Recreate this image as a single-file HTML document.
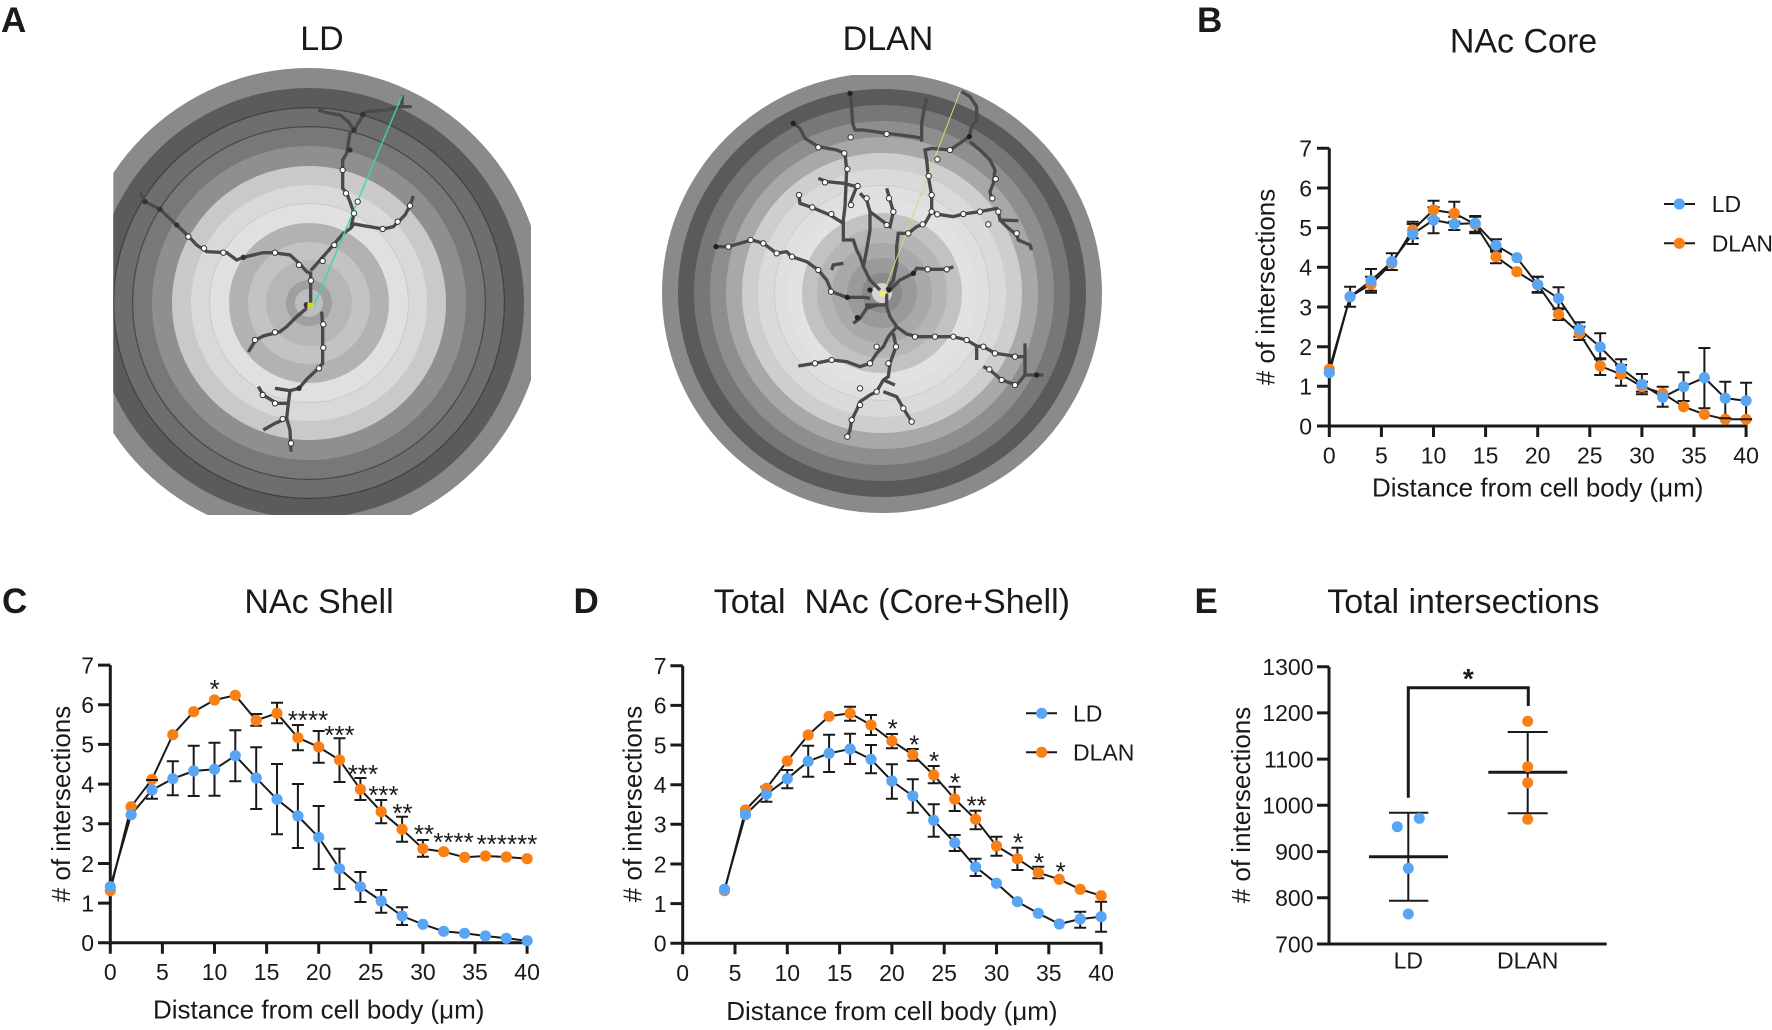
<!DOCTYPE html>
<html><head><meta charset="utf-8"><style>
html,body{margin:0;padding:0;background:#fff}
svg{display:block}
text{font-family:"Liberation Sans",Arial,sans-serif;fill:#1a1a1a}
.t{font-size:34px}
.L{font-size:35px;font-weight:bold;fill:#1a1a1a}
.tk{font-size:23px}
.ax{font-size:26px}
.st{font-size:26px}
.e{fill:none;stroke:#1a1a1a;stroke-width:2}
.ln{fill:none;stroke:#1a1a1a;stroke-width:2;stroke-linejoin:round}
.axis{fill:none;stroke:#1a1a1a;stroke-width:3}
.tick{fill:none;stroke:#1a1a1a;stroke-width:3}
.den{fill:none;stroke:#4a4a4a;stroke-width:10;stroke-linejoin:miter}
.nw{fill:#fff;stroke:#333;stroke-width:3}
</style></head><body>
<svg width="1772" height="1030" viewBox="0 0 1772 1030" xmlns="http://www.w3.org/2000/svg">
<defs>
<circle id="o" r="5.6" fill="#fa7f14"/>
<circle id="b" r="5.6" fill="#58a5f6"/>
<clipPath id="cl"><rect x="113.3" y="60" width="417.7" height="455"/></clipPath>
<clipPath id="cd"><rect x="600" y="75" width="540" height="460"/></clipPath>
</defs>

<!-- Panel letters -->
<text class="L" x="1" y="32">A</text>
<text class="L" x="1197" y="32">B</text>
<text class="L" x="2" y="613">C</text>
<text class="L" x="573.5" y="613">D</text>
<text class="L" x="1194.5" y="613">E</text>

<!-- Panel A titles -->
<text class="t" x="322" y="50" text-anchor="middle">LD</text>
<text class="t" x="888" y="50" text-anchor="middle">DLAN</text>

<!-- LD neuron -->
<g clip-path="url(#cl)">
<circle cx="309" cy="303" r="235" fill="#8a8a8a"/>
<circle cx="309" cy="303" r="215" fill="#5b5b5b"/>
<circle cx="309" cy="303" r="196" fill="#404040"/>
<circle cx="309" cy="303" r="194.8" fill="#6e6e6e"/>
<circle cx="309" cy="303" r="177" fill="#484848"/>
<circle cx="309" cy="303" r="175.8" fill="#787878"/>
<circle cx="309" cy="303" r="157" fill="#8f8f8f"/>
<circle cx="309" cy="303" r="137" fill="#c9c9c9"/>
<circle cx="309" cy="303" r="118" fill="#d9d9d9"/>
<circle cx="309" cy="303" r="100" fill="#cacaca"/>
<circle cx="309" cy="303" r="99" fill="#e0e0e0"/>
<circle cx="309" cy="303" r="80" fill="#b2b2b2"/>
<circle cx="309" cy="303" r="61" fill="#c3c3c3"/>
<circle cx="309" cy="303" r="43" fill="#b6b6b6"/>
<circle cx="309" cy="303" r="23" fill="#9f9f9f"/>
<circle cx="309" cy="303" r="14" fill="#bdbdbd"/>
<g transform="translate(100 60) scale(0.33333)">
<polyline class="den" points="632,730 632,690 632,640 620,635 600,612 570,585 520,578 490,578 430,592 410,600 380,578 320,575 290,555 265,528 230,495 180,448 135,425 120,398"/>
<polyline class="den" points="632,632 650,612 700,555 730,520 752,505 762,492 790,497 850,507 880,500 915,465 930,437 940,408"/>
<polyline class="den" points="752,505 762,460 750,425 740,400 728,385 728,300 740,280 750,220 762,210 745,185 720,165 680,158 655,150" stroke="#333"/>
<polyline class="den" points="762,210 790,165 800,155 860,150 900,140 935,140" stroke="#1e1e1e" stroke-width="13"/>
<polyline class="den" points="907,105 905,140" stroke="#1e1e1e"/>
<polyline class="den" points="620,745 590,770 560,800 540,815 490,828 467,840 445,876"/>
<polyline class="den" points="665,755 668,800 668,910 655,925 620,958 597,985 570,992 525,985"/>
<polyline class="den" points="570,992 565,1030 530,1030 490,1005 475,980"/>
<polyline class="den" points="565,1030 560,1075 525,1090 490,1110"/>
<polyline class="den" points="560,1075 570,1110 573,1175" stroke="#333"/>
<line x1="640" y1="740" x2="907" y2="105" stroke="#3ad6b4" stroke-width="4"/>
<g class="nw">
<circle cx="728" cy="330" r="8"/><circle cx="738" cy="400" r="8"/><circle cx="773" cy="425" r="8"/><circle cx="762" cy="460" r="8"/><circle cx="848" cy="507" r="8"/><circle cx="893" cy="485" r="8"/><circle cx="930" cy="437" r="8"/><circle cx="703" cy="555" r="8"/><circle cx="668" cy="603" r="8"/><circle cx="597" cy="615" r="8"/><circle cx="525" cy="578" r="8"/><circle cx="370" cy="578" r="8"/><circle cx="312" cy="565" r="8"/><circle cx="265" cy="530" r="8"/><circle cx="633" cy="662" r="8"/><circle cx="670" cy="793" r="8"/><circle cx="670" cy="863" r="8"/><circle cx="657" cy="925" r="8"/><circle cx="525" cy="817" r="8"/><circle cx="465" cy="840" r="8"/><circle cx="488" cy="1005" r="8"/><circle cx="525" cy="1030" r="8"/><circle cx="548" cy="1077" r="8"/><circle cx="573" cy="1150" r="8"/>
</g>
<g fill="#333"><circle cx="180" cy="448" r="8"/><circle cx="135" cy="425" r="8"/><circle cx="230" cy="495" r="8"/><circle cx="430" cy="592" r="8"/><circle cx="750" cy="270" r="8"/><circle cx="762" cy="210" r="8"/><circle cx="788" cy="163" r="8"/><circle cx="597" cy="985" r="8"/><circle cx="620" cy="735" r="9"/></g>
<rect x="622" y="728" width="20" height="14" fill="#d8d820"/>
</g>
</g>

<!-- DLAN neuron -->
<g clip-path="url(#cd)">
<circle cx="882" cy="293" r="220" fill="#8a8a8a"/>
<circle cx="882" cy="293" r="204" fill="#5a5a5a"/>
<circle cx="882" cy="293" r="188" fill="#777777"/>
<circle cx="882" cy="293" r="172" fill="#8e8e8e"/>
<circle cx="882" cy="293" r="156" fill="#a8a8a8"/>
<circle cx="882" cy="293" r="140" fill="#cecece"/>
<circle cx="882" cy="293" r="124" fill="#dadada"/>
<circle cx="882" cy="293" r="108" fill="#cdcdcd"/>
<circle cx="882" cy="293" r="107" fill="#dfdfdf"/>
<circle cx="882" cy="293" r="94" fill="#e2e2e2"/>
<circle cx="882" cy="293" r="80" fill="#c2c2c2"/>
<circle cx="882" cy="293" r="65" fill="#b5b5b5"/>
<circle cx="882" cy="293" r="50" fill="#a9a9a9"/>
<circle cx="882" cy="293" r="35" fill="#9a9a9a"/>
<circle cx="882" cy="293" r="20" fill="#8a8a8a"/>
<circle cx="882" cy="293" r="10" fill="#d4d4d4"/>
<g transform="translate(630 60) scale(0.33333)">
<polyline class="den" points="770,690 790,660 800,610 800,560 805,520 835,520 860,500 885,490 905,455 905,405 895,350 890,300 885,270 905,265 960,270 1018,230 1025,200 1040,180 1040,140 1020,110 995,95"/>
<polyline class="den" points="905,455 925,463 970,470 1000,462 1050,455 1100,445 1105,455 1110,480 1165,482"/>
<polyline class="den" points="1110,480 1130,500 1160,525 1165,540 1200,555 1205,570"/>
<polyline class="den" points="1020,245 1050,270 1080,300 1095,330 1090,370 1080,395 1085,415"/>
<polyline class="den" points="875,245 875,190 880,160 890,115" stroke="#222"/>
<polyline class="den" points="875,235 850,230 770,220 700,210 675,210 668,190 665,140 660,100" stroke="#333"/>
<polyline class="den" points="750,690 720,660 700,620 690,590 680,570 670,540 640,540 640,480 645,440 650,330 645,280 620,270 565,260 525,235 510,205 490,190"/>
<polyline class="den" points="640,490 600,465 545,442 510,430 507,408"/>
<polyline class="den" points="660,430 680,380 640,370 590,365 565,355"/>
<polyline class="den" points="700,620 710,570 720,510 720,455 710,420 690,400"/>
<polyline class="den" points="720,455 760,485 780,500 790,455 780,420 770,385"/>
<polyline class="den" points="720,715 700,712 650,712 605,695 590,660 565,630 530,605 485,590 470,575 440,580 400,550 365,540 330,550 295,560 258,560"/>
<polyline class="den" points="640,610 610,615 605,630"/>
<polyline class="den" points="780,690 810,660 850,640 860,625 900,628 950,628 970,620"/>
<polyline class="den" points="770,740 780,770 800,800 830,822 860,830 915,830 970,830 1010,840 1040,858 1060,860 1095,880 1130,885 1160,890 1185,890 1185,850"/>
<polyline class="den" points="1185,890 1185,945 1240,945" stroke="#333"/>
<polyline class="den" points="1185,945 1160,975 1115,960 1080,930 1060,920"/>
<polyline class="den" points="1040,860 1040,900"/>
<polyline class="den" points="800,800 775,830 760,860 740,880 720,910 690,920 650,905 605,900 555,910 505,918"/>
<polyline class="den" points="790,820 798,860 780,910 775,950 760,960 740,995 720,1005 690,1025 680,1050 665,1080 660,1110 652,1130"/>
<polyline class="den" points="760,995 800,1010 820,1045 845,1085"/>
<polyline class="den" points="760,960 795,975"/>
<polyline class="den" points="740,735 710,745 690,775 670,790" stroke="#333"/>
<polyline class="den" points="705,735 770,735 770,700" stroke="#222"/>
<line x1="760" y1="700" x2="990" y2="95" stroke="#d8d870" stroke-width="3"/>
<g class="nw">
<circle cx="770" cy="222" r="8"/><circle cx="662" cy="232" r="8"/><circle cx="565" cy="262" r="8"/><circle cx="643" cy="280" r="8"/><circle cx="652" cy="327" r="8"/><circle cx="585" cy="367" r="8"/><circle cx="683" cy="378" r="8"/><circle cx="663" cy="435" r="8"/><circle cx="710" cy="415" r="8"/><circle cx="777" cy="415" r="8"/><circle cx="790" cy="455" r="8"/><circle cx="604" cy="462" r="8"/><circle cx="547" cy="442" r="8"/><circle cx="507" cy="405" r="8"/><circle cx="896" cy="348" r="8"/><circle cx="905" cy="405" r="8"/><circle cx="905" cy="455" r="8"/><circle cx="922" cy="463" r="8"/><circle cx="1000" cy="462" r="8"/><circle cx="1050" cy="455" r="8"/><circle cx="1105" cy="455" r="8"/><circle cx="1160" cy="520" r="8"/><circle cx="1075" cy="493" r="8"/><circle cx="1087" cy="415" r="8"/><circle cx="1097" cy="357" r="8"/><circle cx="960" cy="270" r="8"/><circle cx="922" cy="298" r="8"/><circle cx="486" cy="590" r="8"/><circle cx="440" cy="580" r="8"/><circle cx="400" cy="550" r="8"/><circle cx="362" cy="540" r="8"/><circle cx="295" cy="560" r="8"/><circle cx="565" cy="630" r="8"/><circle cx="603" cy="695" r="8"/><circle cx="893" cy="628" r="8"/><circle cx="950" cy="628" r="8"/><circle cx="855" cy="830" r="8"/><circle cx="915" cy="830" r="8"/><circle cx="970" cy="830" r="8"/><circle cx="1010" cy="840" r="8"/><circle cx="1060" cy="860" r="8"/><circle cx="1095" cy="880" r="8"/><circle cx="1155" cy="890" r="8"/><circle cx="1155" cy="975" r="8"/><circle cx="1115" cy="960" r="8"/><circle cx="1078" cy="928" r="8"/><circle cx="555" cy="910" r="8"/><circle cx="605" cy="900" r="8"/><circle cx="720" cy="910" r="8"/><circle cx="740" cy="860" r="8"/><circle cx="798" cy="860" r="8"/><circle cx="775" cy="910" r="8"/><circle cx="740" cy="995" r="8"/><circle cx="690" cy="985" r="8"/><circle cx="690" cy="1035" r="8"/><circle cx="665" cy="1080" r="8"/><circle cx="652" cy="1130" r="8"/><circle cx="820" cy="1045" r="8"/><circle cx="845" cy="1085" r="8"/><circle cx="835" cy="520" r="8"/><circle cx="878" cy="493" r="8"/><circle cx="770" cy="495" r="8"/>
</g>
<g fill="#222"><circle cx="660" cy="100" r="8"/><circle cx="490" cy="190" r="8"/><circle cx="258" cy="560" r="8"/><circle cx="652" cy="712" r="8"/><circle cx="720" cy="690" r="8"/><circle cx="777" cy="690" r="8"/><circle cx="850" cy="640" r="8"/><circle cx="682" cy="773" r="8"/><circle cx="1220" cy="945" r="8"/><circle cx="1018" cy="230" r="8"/></g>
<circle cx="758" cy="702" r="9" fill="#f0f070"/>
</g>
</g>

<!-- ================= Panel B ================= -->
<text class="t" x="1523.5" y="52.5" text-anchor="middle">NAc Core</text>
<path class="axis" d="M1329.3 148.3V426H1747.5"/>
<path class="tick" d="M1317 426h12.3M1317 386.3h12.3M1317 346.7h12.3M1317 307h12.3M1317 267.3h12.3M1317 227.7h12.3M1317 188h12.3M1317 148.3h12.3M1329.3 426v11M1381.4 426v11M1433.5 426v11M1485.6 426v11M1537.7 426v11M1589.8 426v11M1641.9 426v11M1694 426v11M1746.1 426v11"/>
<g class="tk" text-anchor="end">
<text x="1312" y="434.3">0</text><text x="1312" y="394.6">1</text><text x="1312" y="355">2</text><text x="1312" y="315.3">3</text><text x="1312" y="275.6">4</text><text x="1312" y="236">5</text><text x="1312" y="196.3">6</text><text x="1312" y="156.6">7</text>
</g>
<g class="tk" text-anchor="middle">
<text x="1329.3" y="463.5">0</text><text x="1381.4" y="463.5">5</text><text x="1433.5" y="463.5">10</text><text x="1485.6" y="463.5">15</text><text x="1537.7" y="463.5">20</text><text x="1589.8" y="463.5">25</text><text x="1641.9" y="463.5">30</text><text x="1694" y="463.5">35</text><text x="1746.1" y="463.5">40</text>
</g>
<text class="ax" text-anchor="middle" transform="translate(1274.5 287) rotate(-90)"># of intersections</text>
<text class="ax" x="1537.7" y="496.7" text-anchor="middle">Distance from cell body (μm)</text>
<polyline class="ln" points="1329.3,369.3 1350.1,296.7 1371,284.3 1391.8,263.3 1412.7,230 1433.5,210 1454.3,213.3 1475.2,224.3 1496,256.7 1516.9,271.7 1537.7,284.7 1558.5,314.3 1579.4,333.3 1600.2,366 1621.1,374.3 1641.9,386.7 1662.7,393.3 1683.6,406.7 1704.4,414.3 1725.3,419.3 1746.1,419.3"/>
<polyline class="ln" points="1329.3,372.7 1350.1,296.7 1371,280.7 1391.8,261.7 1412.7,234 1433.5,220 1454.3,224 1475.2,223.3 1496,245.3 1516.9,257.7 1537.7,284.7 1558.5,298.3 1579.4,329.3 1600.2,347 1621.1,368.3 1641.9,384.3 1662.7,397.3 1683.6,386.7 1704.4,377.7 1725.3,398.3 1746.1,400.7"/>
<path class="e" d="M1371 276.7V292.7M1365 276.7h12M1365 292.7h12M1412.7 221.7V238.3M1406.7 221.7h12M1406.7 238.3h12M1433.5 200.7V218.7M1427.5 200.7h12M1427.5 218.7h12M1454.3 201.7V221.7M1448.3 201.7h12M1448.3 221.7h12M1475.2 216.7V231.7M1469.2 216.7h12M1469.2 231.7h12M1496 250V263.3M1490 250h12M1490 263.3h12M1537.7 276.7V292.7M1531.7 276.7h12M1531.7 292.7h12M1558.5 308.3V320M1552.5 308.3h12M1552.5 320h12M1579.4 326.7V340M1573.4 326.7h12M1573.4 340h12M1600.2 358.3V375M1594.2 358.3h12M1594.2 375h12M1621.1 365V385.7M1615.1 365h12M1615.1 385.7h12M1641.9 381.7V391.7M1635.9 381.7h12M1635.9 391.7h12"/>
<path class="e" d="M1350.1 286.7V306.7M1344.1 286.7h12M1344.1 306.7h12M1371 269V290.7M1365 269h12M1365 290.7h12M1391.8 253.3V270M1385.8 253.3h12M1385.8 270h12M1412.7 224V244M1406.7 224h12M1406.7 244h12M1433.5 207.3V233.3M1427.5 207.3h12M1427.5 233.3h12M1454.3 216.7V230M1448.3 216.7h12M1448.3 230h12M1475.2 216V233.3M1469.2 216h12M1469.2 233.3h12M1496 239.3V251.7M1490 239.3h12M1490 251.7h12M1537.7 276.7V292M1531.7 276.7h12M1531.7 292h12M1558.5 287.3V309.3M1552.5 287.3h12M1552.5 309.3h12M1579.4 322.3V336.7M1573.4 322.3h12M1573.4 336.7h12M1600.2 333.3V359.3M1594.2 333.3h12M1594.2 359.3h12M1621.1 359.3V377.7M1615.1 359.3h12M1615.1 377.7h12M1641.9 374V394.3M1635.9 374h12M1635.9 394.3h12M1662.7 386.7V406.7M1656.7 386.7h12M1656.7 406.7h12M1683.6 372.3V401M1677.6 372.3h12M1677.6 401h12M1704.4 348V408.3M1698.4 348h12M1698.4 408.3h12M1725.3 381.7V418.3M1719.3 381.7h12M1725.3 381.7V418.3M1746.1 382.7V419.3M1740.1 382.7h12"/>
<g>
<use href="#o" x="1329.3" y="369.3"/><use href="#o" x="1350.1" y="296.7"/><use href="#o" x="1371" y="284.3"/><use href="#o" x="1391.8" y="263.3"/><use href="#o" x="1412.7" y="230"/><use href="#o" x="1433.5" y="210"/><use href="#o" x="1454.3" y="213.3"/><use href="#o" x="1475.2" y="224.3"/><use href="#o" x="1496" y="256.7"/><use href="#o" x="1516.9" y="271.7"/><use href="#o" x="1537.7" y="284.7"/><use href="#o" x="1558.5" y="314.3"/><use href="#o" x="1579.4" y="333.3"/><use href="#o" x="1600.2" y="366"/><use href="#o" x="1621.1" y="374.3"/><use href="#o" x="1641.9" y="386.7"/><use href="#o" x="1662.7" y="393.3"/><use href="#o" x="1683.6" y="406.7"/><use href="#o" x="1704.4" y="414.3"/><use href="#o" x="1725.3" y="419.3"/><use href="#o" x="1746.1" y="419.3"/>
</g>
<path class="e" d="M1719.3 418.3h12M1740.1 419.3h12"/>
<g>
<use href="#b" x="1329.3" y="372.7"/><use href="#b" x="1350.1" y="296.7"/><use href="#b" x="1371" y="280.7"/><use href="#b" x="1391.8" y="261.7"/><use href="#b" x="1412.7" y="234"/><use href="#b" x="1433.5" y="220"/><use href="#b" x="1454.3" y="224"/><use href="#b" x="1475.2" y="223.3"/><use href="#b" x="1496" y="245.3"/><use href="#b" x="1516.9" y="257.7"/><use href="#b" x="1537.7" y="284.7"/><use href="#b" x="1558.5" y="298.3"/><use href="#b" x="1579.4" y="329.3"/><use href="#b" x="1600.2" y="347"/><use href="#b" x="1621.1" y="368.3"/><use href="#b" x="1641.9" y="384.3"/><use href="#b" x="1662.7" y="397.3"/><use href="#b" x="1683.6" y="386.7"/><use href="#b" x="1704.4" y="377.7"/><use href="#b" x="1725.3" y="398.3"/><use href="#b" x="1746.1" y="400.7"/>
</g>
<!-- legend B -->
<path class="ln" d="M1664 204h31M1664 243.3h31"/>
<use href="#b" x="1679.3" y="204"/><use href="#o" x="1679.3" y="243.3"/>
<text class="tk" x="1711.7" y="212.2">LD</text>
<text class="tk" x="1711.7" y="251.5">DLAN</text>

<!-- ================= Panel C ================= -->
<text class="t" x="319" y="613" text-anchor="middle">NAc Shell</text>
<path class="axis" d="M110.3 665.1V942.8H528.5"/>
<path class="tick" d="M98 942.8h12.3M98 903.1h12.3M98 863.5h12.3M98 823.8h12.3M98 784.1h12.3M98 744.4h12.3M98 704.8h12.3M98 665.1h12.3M110.3 942.8v11M162.4 942.8v11M214.5 942.8v11M266.6 942.8v11M318.7 942.8v11M370.8 942.8v11M422.9 942.8v11M475 942.8v11M527.1 942.8v11"/>
<g class="tk" text-anchor="end">
<text x="94" y="951.1">0</text><text x="94" y="911.4">1</text><text x="94" y="871.8">2</text><text x="94" y="832.1">3</text><text x="94" y="792.4">4</text><text x="94" y="752.7">5</text><text x="94" y="713.1">6</text><text x="94" y="673.4">7</text>
</g>
<g class="tk" text-anchor="middle">
<text x="110.3" y="980">0</text><text x="162.4" y="980">5</text><text x="214.5" y="980">10</text><text x="266.6" y="980">15</text><text x="318.7" y="980">20</text><text x="370.8" y="980">25</text><text x="422.9" y="980">30</text><text x="475" y="980">35</text><text x="527.1" y="980">40</text>
</g>
<text class="ax" text-anchor="middle" transform="translate(70 804) rotate(-90)"># of intersections</text>
<text class="ax" x="318.7" y="1018.5" text-anchor="middle">Distance from cell body (μm)</text>
<polyline class="ln" points="110.3,890.7 131.1,806.7 152,779.3 172.8,734.7 193.7,711.7 214.5,700 235.3,695.3 256.2,720.3 277,713.3 297.9,737.7 318.7,747 339.5,760 360.4,789.3 381.2,811.7 402.1,829.3 422.9,848.7 443.7,851.7 464.6,857.3 485.4,856 506.3,857 527.1,858.7"/>
<polyline class="ln" points="110.3,886.7 131.1,814.7 152,790 172.8,778.7 193.7,771 214.5,769.3 235.3,755.7 256.2,778 277,799.3 297.9,816 318.7,837.3 339.5,868.7 360.4,886.7 381.2,901 402.1,916 422.9,924.3 443.7,931.3 464.6,933.3 485.4,936 506.3,938.3 527.1,940.7"/>
<path class="e" d="M256.2 714V725.7M250.2 714h12M250.2 725.7h12M277 702.7V723.3M271 702.7h12M271 723.3h12M297.9 725V750.3M291.9 725h12M291.9 750.3h12M318.7 731V762.7M312.7 731h12M312.7 762.7h12M339.5 738.3V782M333.5 738.3h12M333.5 782h12M360.4 778V800M354.4 778h12M354.4 800h12M381.2 800V823.3M375.2 800h12M375.2 823.3h12M402.1 816.7V841.7M396.1 816.7h12M396.1 841.7h12M422.9 840V856.7M416.9 840h12M416.9 856.7h12"/>
<path class="e" d="M152 780V798.7M146 780h12M146 798.7h12M172.8 761.3V795.3M166.8 761.3h12M166.8 795.3h12M193.7 745.7V796M187.7 745.7h12M187.7 796h12M214.5 742.7V795.7M208.5 742.7h12M208.5 795.7h12M235.3 730.3V781.3M229.3 730.3h12M229.3 781.3h12M256.2 747.3V809M250.2 747.3h12M250.2 809h12M277 764V834.3M271 764h12M271 834.3h12M297.9 784V848M291.9 784h12M291.9 848h12M318.7 806V869M312.7 806h12M312.7 869h12M339.5 848.7V889M333.5 848.7h12M333.5 889h12M360.4 872V902M354.4 872h12M354.4 902h12M381.2 890V912.7M375.2 890h12M375.2 912.7h12M402.1 907.3V925M396.1 907.3h12M396.1 925h12"/>
<g>
<use href="#o" x="110.3" y="890.7"/><use href="#o" x="131.1" y="806.7"/><use href="#o" x="152" y="779.3"/><use href="#o" x="172.8" y="734.7"/><use href="#o" x="193.7" y="711.7"/><use href="#o" x="214.5" y="700"/><use href="#o" x="235.3" y="695.3"/><use href="#o" x="256.2" y="720.3"/><use href="#o" x="277" y="713.3"/><use href="#o" x="297.9" y="737.7"/><use href="#o" x="318.7" y="747"/><use href="#o" x="339.5" y="760"/><use href="#o" x="360.4" y="789.3"/><use href="#o" x="381.2" y="811.7"/><use href="#o" x="402.1" y="829.3"/><use href="#o" x="422.9" y="848.7"/><use href="#o" x="443.7" y="851.7"/><use href="#o" x="464.6" y="857.3"/><use href="#o" x="485.4" y="856"/><use href="#o" x="506.3" y="857"/><use href="#o" x="527.1" y="858.7"/>
</g>
<path class="e" d="M146 780h12"/>
<g>
<use href="#b" x="110.3" y="886.7"/><use href="#b" x="131.1" y="814.7"/><use href="#b" x="152" y="790"/><use href="#b" x="172.8" y="778.7"/><use href="#b" x="193.7" y="771"/><use href="#b" x="214.5" y="769.3"/><use href="#b" x="235.3" y="755.7"/><use href="#b" x="256.2" y="778"/><use href="#b" x="277" y="799.3"/><use href="#b" x="297.9" y="816"/><use href="#b" x="318.7" y="837.3"/><use href="#b" x="339.5" y="868.7"/><use href="#b" x="360.4" y="886.7"/><use href="#b" x="381.2" y="901"/><use href="#b" x="402.1" y="916"/><use href="#b" x="422.9" y="924.3"/><use href="#b" x="443.7" y="931.3"/><use href="#b" x="464.6" y="933.3"/><use href="#b" x="485.4" y="936"/><use href="#b" x="506.3" y="938.3"/><use href="#b" x="527.1" y="940.7"/>
</g>
<g class="st" text-anchor="middle">
<text x="214.7" y="698">*</text>
<text x="308" y="729">****</text>
<text x="339.5" y="744">***</text>
<text x="363" y="783">***</text>
<text x="383.5" y="804">***</text>
<text x="402.5" y="822">**</text>
<text x="424" y="843">**</text>
<text x="453.5" y="851">****</text>
<text x="507" y="853">******</text>
</g>

<!-- ================= Panel D ================= -->
<text class="t" x="891.9" y="613" text-anchor="middle" style="white-space:pre" xml:space="preserve">Total  NAc (Core+Shell)</text>
<path class="axis" d="M682.7 665.7V943.3H1102.5"/>
<path class="tick" d="M670.4 943.3h12.3M670.4 903.6h12.3M670.4 864h12.3M670.4 824.3h12.3M670.4 784.7h12.3M670.4 745h12.3M670.4 705.4h12.3M670.4 665.7h12.3M682.7 943.3v11M735 943.3v11M787.3 943.3v11M839.6 943.3v11M891.9 943.3v11M944.2 943.3v11M996.5 943.3v11M1048.8 943.3v11M1101.1 943.3v11"/>
<g class="tk" text-anchor="end">
<text x="666.5" y="951.6">0</text><text x="666.5" y="911.9">1</text><text x="666.5" y="872.3">2</text><text x="666.5" y="832.6">3</text><text x="666.5" y="793">4</text><text x="666.5" y="753.3">5</text><text x="666.5" y="713.7">6</text><text x="666.5" y="674">7</text>
</g>
<g class="tk" text-anchor="middle">
<text x="682.7" y="981">0</text><text x="735" y="981">5</text><text x="787.3" y="981">10</text><text x="839.6" y="981">15</text><text x="891.9" y="981">20</text><text x="944.2" y="981">25</text><text x="996.5" y="981">30</text><text x="1048.8" y="981">35</text><text x="1101.1" y="981">40</text>
</g>
<text class="ax" text-anchor="middle" transform="translate(641.7 804) rotate(-90)"># of intersections</text>
<text class="ax" x="891.9" y="1020" text-anchor="middle">Distance from cell body (μm)</text>
<polyline class="ln" points="724.5,890.7 745.5,810 766.4,788.3 787.3,761 808.2,735 829.1,716.3 850.1,713.3 871,725 891.9,741 912.8,754.7 933.7,775 954.7,799 975.6,819.3 996.5,846 1017.4,858.7 1038.3,872.7 1059.3,879.3 1080.2,889.3 1101.1,895.7"/>
<polyline class="ln" points="724.5,889.3 745.5,814.7 766.4,794.3 787.3,778.7 808.2,761.3 829.1,753.3 850.1,749 871,759.3 891.9,781 912.8,796 933.7,820.3 954.7,842.7 975.6,867 996.5,883.3 1017.4,901.7 1038.3,913.3 1059.3,924 1080.2,919 1101.1,916.7"/>
<path class="e" d="M850.1 706.7V720.7M844.1 706.7h12M844.1 720.7h12M871 715V735M865 715h12M865 735h12M891.9 734V748.3M885.9 734h12M885.9 748.3h12M912.8 749V760.7M906.8 749h12M906.8 760.7h12M933.7 766V783.3M927.7 766h12M927.7 783.3h12M954.7 786.7V811M948.7 786.7h12M948.7 811h12M975.6 810.7V829.3M969.6 810.7h12M969.6 829.3h12M996.5 836.7V855.7M990.5 836.7h12M990.5 855.7h12M1017.4 847.7V870M1011.4 847.7h12M1011.4 870h12M1038.3 866.7V878.3M1032.3 866.7h12M1032.3 878.3h12"/>
<path class="e" d="M766.4 786.7V801.7M760.4 786.7h12M760.4 801.7h12M787.3 770V788.3M781.3 770h12M781.3 788.3h12M808.2 745.7V776.7M802.2 745.7h12M802.2 776.7h12M829.1 734.7V772M823.1 734.7h12M823.1 772h12M850.1 733.7V764M844.1 733.7h12M844.1 764h12M871 745V773.3M865 745h12M865 773.3h12M891.9 764.3V798.7M885.9 764.3h12M885.9 798.7h12M912.8 779.3V812.7M906.8 779.3h12M906.8 812.7h12M933.7 804.3V836.7M927.7 804.3h12M927.7 836.7h12M954.7 835V851M948.7 835h12M948.7 851h12M975.6 858.7V876M969.6 858.7h12M969.6 876h12M1080.2 911.7V927.7M1074.2 911.7h12M1074.2 927.7h12M1101.1 901.7V931.7M1095.1 901.7h12M1095.1 931.7h12"/>
<g>
<use href="#o" x="724.5" y="890.7"/><use href="#o" x="745.5" y="810"/><use href="#o" x="766.4" y="788.3"/><use href="#o" x="787.3" y="761"/><use href="#o" x="808.2" y="735"/><use href="#o" x="829.1" y="716.3"/><use href="#o" x="850.1" y="713.3"/><use href="#o" x="871" y="725"/><use href="#o" x="891.9" y="741"/><use href="#o" x="912.8" y="754.7"/><use href="#o" x="933.7" y="775"/><use href="#o" x="954.7" y="799"/><use href="#o" x="975.6" y="819.3"/><use href="#o" x="996.5" y="846"/><use href="#o" x="1017.4" y="858.7"/><use href="#o" x="1038.3" y="872.7"/><use href="#o" x="1059.3" y="879.3"/><use href="#o" x="1080.2" y="889.3"/><use href="#o" x="1101.1" y="895.7"/>
</g>
<g>
<use href="#b" x="724.5" y="889.3"/><use href="#b" x="745.5" y="814.7"/><use href="#b" x="766.4" y="794.3"/><use href="#b" x="787.3" y="778.7"/><use href="#b" x="808.2" y="761.3"/><use href="#b" x="829.1" y="753.3"/><use href="#b" x="850.1" y="749"/><use href="#b" x="871" y="759.3"/><use href="#b" x="891.9" y="781"/><use href="#b" x="912.8" y="796"/><use href="#b" x="933.7" y="820.3"/><use href="#b" x="954.7" y="842.7"/><use href="#b" x="975.6" y="867"/><use href="#b" x="996.5" y="883.3"/><use href="#b" x="1017.4" y="901.7"/><use href="#b" x="1038.3" y="913.3"/><use href="#b" x="1059.3" y="924"/><use href="#b" x="1080.2" y="919"/><use href="#b" x="1101.1" y="916.7"/>
</g>
<g class="st" text-anchor="middle">
<text x="892.7" y="737.7">*</text>
<text x="914.3" y="753.3">*</text>
<text x="934" y="770">*</text>
<text x="955" y="791.7">*</text>
<text x="976.7" y="814.3">**</text>
<text x="1018" y="851.7">*</text>
<text x="1039" y="871.7">*</text>
<text x="1060.7" y="880.7">*</text>
</g>
<!-- legend D -->
<path class="ln" d="M1026 713.3h31M1026 752.3h31"/>
<use href="#b" x="1041.7" y="713.3"/><use href="#o" x="1041.7" y="752.3"/>
<text class="tk" x="1073" y="721.7">LD</text>
<text class="tk" x="1073" y="760.5">DLAN</text>

<!-- ================= Panel E ================= -->
<text class="t" x="1463.3" y="613" text-anchor="middle">Total intersections</text>
<path class="axis" d="M1329 666.7V944H1606.7"/>
<path class="tick" d="M1317 944h12M1317 897.8h12M1317 851.6h12M1317 805.3h12M1317 759.1h12M1317 712.9h12M1317 666.7h12"/>
<g class="tk" text-anchor="end">
<text x="1313.5" y="952.3">700</text><text x="1313.5" y="906.1">800</text><text x="1313.5" y="859.9">900</text><text x="1313.5" y="813.6">1000</text><text x="1313.5" y="767.4">1100</text><text x="1313.5" y="721.2">1200</text><text x="1313.5" y="675">1300</text>
</g>
<g class="tk" text-anchor="middle">
<text x="1408.3" y="968.3">LD</text><text x="1527.7" y="968.3">DLAN</text>
</g>
<text class="ax" text-anchor="middle" transform="translate(1250 805) rotate(-90)"># of intersections</text>
<path class="axis" d="M1408.3 797.7V687.7H1528.3V706"/>
<text x="1468.3" y="688" text-anchor="middle" style="font-size:28px;font-weight:bold">*</text>
<path class="e" d="M1408.3 812.7V900.7M1389 812.7h39.3M1389 900.7h39.3M1527.7 732V813.3M1507.7 732h40M1507.7 813.3h40"/>
<path class="axis" d="M1369 856.7h79M1488.3 772.3h79"/>
<g>
<circle cx="1397.3" cy="826.7" r="5.5" fill="#58a5f6"/><circle cx="1419.3" cy="818.3" r="5.5" fill="#58a5f6"/><circle cx="1408.3" cy="868.3" r="5.5" fill="#58a5f6"/><circle cx="1408.3" cy="914" r="5.5" fill="#58a5f6"/>
<circle cx="1527.7" cy="721.3" r="5.5" fill="#fa7f14"/><circle cx="1527.7" cy="766.7" r="5.5" fill="#fa7f14"/><circle cx="1527.7" cy="782.7" r="5.5" fill="#fa7f14"/><circle cx="1527.7" cy="819.3" r="5.5" fill="#fa7f14"/>
</g>
</svg>
</body></html>
